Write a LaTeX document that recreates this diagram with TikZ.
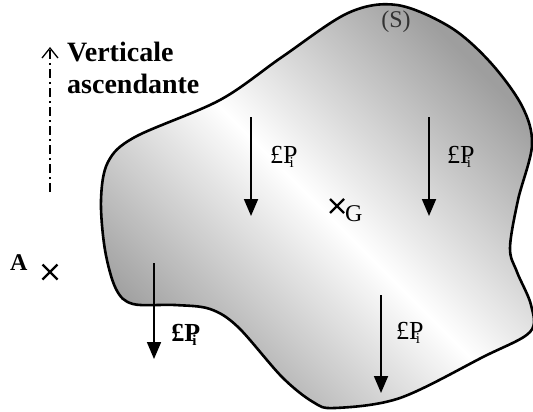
\documentclass[tikz,border=0pt]{standalone}
\usepackage{fontspec}
\setmainfont{Liberation Serif}
\usetikzlibrary{arrows.meta}
\tikzset{
  force/.style={line width=1.8pt,-{Triangle[length=17pt,width=14pt]}},
  flabel/.style={inner sep=0pt,font=\fontsize{26}{28}\selectfont},
  crossmark/.style={line width=2.2pt},
  vlab/.style={inner sep=0pt,anchor=base west,font=\fontsize{28}{30}\selectfont\bfseries}
}
\newcommand{\dPi}{£P\kern-0.3em\raisebox{-0.3ex}{\fontsize{15}{16}\selectfont i}}
\begin{document}
\begin{tikzpicture}[x=1pt,y=-1pt]
\useasboundingbox (0,0) rectangle (533,412);
% body (S)
\shade[draw=black,line width=2.6pt,top color=black!38,bottom color=black!38,middle color=white,shading angle=-45]
  plot[smooth cycle,tension=0.55] coordinates{
  (397,5) (450,27) (490,62) (522,106) (532,145) (518,200) (510,248) (517,272) (531,305) (530,332)
  (483,357) (400,398) (335,408) (313,402) (282,377) (238,327) (210,309) (175,305) (133,304)
  (116,289) (105,250) (101,200) (108,162) (135,137) (220,100) (282,57) (348,13)};
\node[inner sep=0pt,font=\fontsize{24}{26}\selectfont,text=black!80] (S) at (396,22) {(S)};
% vertical
\coordinate (vb) at (50,192);
\coordinate (vt) at (50,47);
\draw[line width=1.6pt,dash pattern=on 9pt off 4pt on 2pt off 4pt,-{Straight Barb[length=10pt,width=16pt,line width=1.3pt]}] (vb) -- (vt);
\node[vlab] (v1) at (67,62) {Verticale};
\node[vlab] (v2) at (67,93) {ascendante};
% point A
\node[inner sep=0pt,anchor=base west,font=\fontsize{24}{26}\selectfont\bfseries] (A) at (10,270) {A};
\coordinate (Ac) at (50,272);
\draw[crossmark] ([shift={(-7.5,-7.5)}]Ac) -- ([shift={(7.5,7.5)}]Ac) ([shift={(-7.5,7.5)}]Ac) -- ([shift={(7.5,-7.5)}]Ac);
% point G
\coordinate (Gc) at (337,206);
\draw[crossmark] ([shift={(-7,-7)}]Gc) -- ([shift={(7,7)}]Gc) ([shift={(-7,7)}]Gc) -- ([shift={(7,-7)}]Gc);
\node[inner sep=0pt,anchor=base west,font=\fontsize{24}{26}\selectfont] (G) at (345,221) {G};
% forces
\coordinate (f1a) at (251,117); \coordinate (f1b) at (251,216);
\coordinate (f2a) at (429,117); \coordinate (f2b) at (429,216);
\coordinate (f3a) at (154,263); \coordinate (f3b) at (154,359);
\coordinate (f4a) at (381,295); \coordinate (f4b) at (381,393);
\draw[force] (f1a) -- (f1b);
\draw[force] (f2a) -- (f2b);
\draw[force] (f3a) -- (f3b);
\draw[force] (f4a) -- (f4b);
\node[flabel] (l1) at (282,157) {\dPi};
\node[flabel] (l2) at (459,157) {\dPi};
\node[flabel,font=\fontsize{26}{28}\selectfont\bfseries] (l3) at (184,335) {\dPi};
\node[flabel] (l4) at (408,333) {\dPi};
\end{tikzpicture}
\end{document}
